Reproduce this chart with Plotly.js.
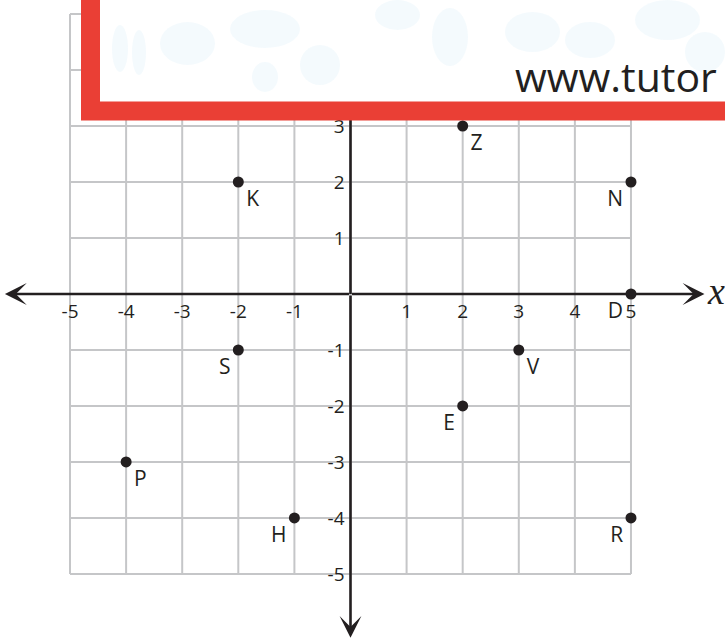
<!DOCTYPE html>
<html>
<head>
<meta charset="utf-8">
<script src="https://cdn.plot.ly/plotly-3.0.1.min.js"></script>
<style>
  html, body { margin: 0; padding: 0; background: #ffffff; }
  #chart { width: 725px; height: 640px; }
</style>
</head>
<body>
<div id="chart"></div>
<script>
// ---- data ----
const gridVals = [-5, -4, -3, -2, -1, 0, 1, 2, 3, 4, 5];
const xTickVals = [-5, -4, -3, -2, -1, 1, 2, 3, 4, 5];
const xTickText = ['-5', '-4', '-3', '-2', '-1', '1', '2', '3', '4', '5'];
const yTickVals = [-5, -4, -3, -2, -1, 1, 2, 3, 4, 5];
const yTickText = ['-5', '-4', '-3', '-2', '-1', '1', '2', '3', '4', '5'];
const pointNames = ['Z', 'K', 'N', 'D', 'S', 'V', 'E', 'P', 'H', 'R'];
const pointX = [2, -2, 5, 5, -2, 3, 2, -4, -1, 5];
const pointY = [3, 2, 2, 0, -1, -1, -2, -3, -4, -4];
const bannerText = 'www.tutor';
const axisLabel = 'x';

// ---- styling ----
const ink = '#231f20';
const gridColor = '#c5c6c8';
const W = 725, H = 640;
const xRange = [-6.248, 6.676];
const yRange = [-6.179, 5.25];

const gMin = Math.min(...gridVals), gMax = Math.max(...gridVals);
const shapes = [];
gridVals.forEach(v => {
  shapes.push({type: 'line', layer: 'below', xref: 'x', yref: 'y',
    x0: v, x1: v, y0: gMin, y1: gMax, line: {color: gridColor, width: 2}});
  shapes.push({type: 'line', layer: 'below', xref: 'x', yref: 'y',
    x0: gMin, x1: gMax, y0: v, y1: v, line: {color: gridColor, width: 2}});
});
// upward part of y axis (hidden under banner)
shapes.push({type: 'line', layer: 'below', xref: 'x', yref: 'y',
  x0: 0, x1: 0, y0: 0, y1: yRange[1], line: {color: ink, width: 2.6}});

// banner decorations (faint background pattern)
const px = v => v / W, py = v => 1 - v / H;
const deco = 'rgba(205,232,248,0.5)';
const blobs = [
  [112, 25, 128, 72], [132, 30, 146, 75], [160, 22, 215, 65], [230, 10, 300, 48],
  [300, 45, 340, 85], [375, 0, 420, 30], [432, 8, 468, 66], [505, 12, 560, 52],
  [565, 22, 615, 58], [635, 0, 700, 40], [685, 32, 725, 72], [252, 62, 278, 92]
];
blobs.forEach(b => {
  shapes.push({type: 'circle', layer: 'above', xref: 'paper', yref: 'paper',
    x0: px(b[0]), x1: px(b[2]), y0: py(b[3]), y1: py(b[1]),
    fillcolor: deco, line: {width: 0}, opacity: 0.45});
});
// banner frame
shapes.unshift({type: 'rect', layer: 'above', xref: 'paper', yref: 'paper',
  x0: px(90.5), x1: 1.2, y0: py(111), y1: 1.2,
  fillcolor: '#ffffff', line: {color: '#ea3f35', width: 19}});

const labelPos = ['bottom right', 'bottom right', 'bottom left', 'bottom left', 'bottom left',
                  'bottom right', 'bottom left', 'bottom right', 'bottom left', 'bottom left'];

const trace = {
  type: 'scatter',
  mode: 'markers+text',
  x: pointX,
  y: pointY,
  text: pointNames,
  textposition: labelPos,
  textfont: {family: 'Open Sans, sans-serif', size: 21, color: ink},
  marker: {color: ink, size: 11},
  cliponaxis: false,
  hoverinfo: 'skip'
};

const arrowCommon = {axref: 'x', ayref: 'y', xref: 'x', yref: 'y', text: '',
  showarrow: true, arrowhead: 3, arrowsize: 1.4, arrowwidth: 2.6, arrowcolor: ink};

const annotations = [
  Object.assign({}, arrowCommon, {x: -6.16, y: 0, ax: 0, ay: 0}),
  Object.assign({}, arrowCommon, {x: 6.31, y: 0, ax: 0, ay: 0}),
  Object.assign({}, arrowCommon, {x: 0, y: -6.14, ax: 0, ay: 0}),
  {xref: 'paper', yref: 'paper', x: px(705), y: py(291), xanchor: 'left', yanchor: 'middle',
   text: axisLabel, showarrow: false,
   font: {family: 'Liberation Serif, DejaVu Serif, serif', size: 38, color: ink, style: 'italic'}},
  {xref: 'paper', yref: 'paper', x: px(513), y: py(76), xanchor: 'left', yanchor: 'middle',
   text: bannerText, showarrow: false,
   font: {family: 'Open Sans, sans-serif', size: 41, color: ink}}
];

const layout = {
  width: W, height: H,
  margin: {l: 0, r: 0, t: 0, b: 0, pad: 0},
  paper_bgcolor: '#ffffff', plot_bgcolor: '#ffffff',
  showlegend: false,
  xaxis: {range: xRange, showgrid: false, zeroline: false, showline: false,
    anchor: 'free', position: 1 - 294 / H,
    tickmode: 'array', tickvals: xTickVals, ticktext: xTickText, ticks: '',
    ticklabelstandoff: 4,
    tickfont: {family: 'Open Sans, sans-serif', size: 19, color: ink}, fixedrange: true},
  yaxis: {range: yRange, showgrid: false, zeroline: false, showline: false,
    anchor: 'free', position: 350.5 / W,
    tickmode: 'array', tickvals: yTickVals, ticktext: yTickText, ticks: '',
    ticklabelstandoff: 6,
    tickfont: {family: 'Open Sans, sans-serif', size: 19, color: ink}, fixedrange: true},
  shapes: shapes,
  annotations: annotations
};

Plotly.newPlot('chart', [trace], layout, {staticPlot: true, displayModeBar: false});
</script>
</body>
</html>
